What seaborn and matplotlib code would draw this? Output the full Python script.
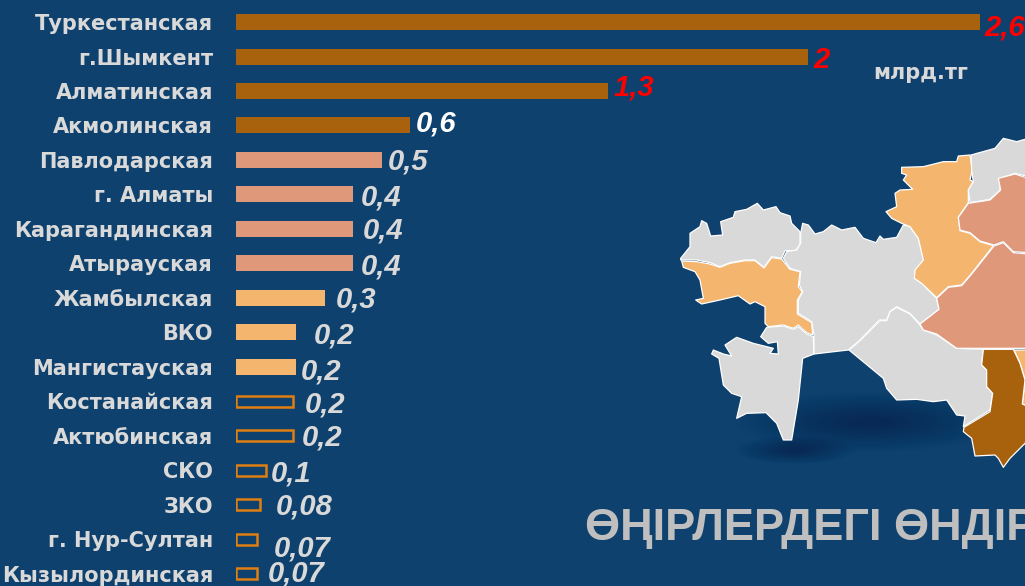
import numpy as np
import pandas as pd
import matplotlib
matplotlib.use("Agg")
import matplotlib.pyplot as plt
from matplotlib.patches import Polygon, Ellipse
import seaborn as sns

regions = ["Туркестанская", "г.Шымкент", "Алматинская", "Акмолинская", "Павлодарская",
           "г. Алматы", "Карагандинская", "Атырауская", "Жамбылская", "ВКО", "Мангистауская",
           "Костанайская", "Актюбинская", "СКО", "ЗКО", "г. Нур-Султан", "Кызылординская"]
values = [2.6, 2.0, 1.3, 0.61, 0.51, 0.41, 0.41, 0.41, 0.31, 0.21, 0.21,
          0.2, 0.2, 0.105, 0.085, 0.075, 0.075]
value_labels = ["2,6", "2", "1,3", "0,6", "0,5", "0,4", "0,4", "0,4", "0,3", "0,2", "0,2",
                "0,2", "0,2", "0,1", "0,08", "0,07", "0,07"]
tiers = ["t1"] * 4 + ["t2"] * 4 + ["t3"] * 3 + ["t4"] * 6

BG = "#0E416D"
palette = {"t1": "#A8620E", "t2": "#E0987A", "t3": "#F4B56E", "t4": BG}
OUTLINE = "#E07F10"
label_colors = ["#FF0000"] * 3 + ["#FFFFFF"] + ["#D9D9D9"] * 13
# label offset from the bar end / row centre, in pixels
label_dx = [5, 5, 6, 5, 6, 8, 10, 8, 11, 18, 5, 12, 9, 5, 15, 16, 10]
label_dy = [2, 0, -6, -5, -1, 0, -1, 0, -1, 0, 2, 0, -1, 0, -1, 6, -3]

# Map outlines, as traced on a 3x crop whose origin is (670, 130) in the picture
map_shapes = [
    ("#D9D9D9", [(32,385),(60,350),(60,310),(90,290),(95,272),(110,280),(122,318),(158,315),(152,275),(190,262),(195,245),(230,238),(262,220),(280,240),(318,230),(330,248),(360,258),(365,280),(390,305),(390,345),(375,362),(345,362),(335,385),(305,380),(282,412),(255,390),(225,390),(180,398),(150,410),(120,398),(80,390),(32,390)]),
    ("#F4B56E", [(35,393),(80,395),(120,402),(150,412),(180,400),(225,392),(255,392),(282,414),(305,383),(335,387),(360,418),(390,425),(385,470),(397,485),(382,510),(382,552),(425,578),(428,615),(410,608),(385,585),(370,595),(340,585),(295,590),(285,580),(285,530),(255,515),(240,522),(205,497),(150,510),(95,522),(77,510),(100,505),(90,450),(75,425),(40,412)]),
    ("#D9D9D9", [(290,592),(340,588),(370,598),(385,590),(410,612),(430,620),(432,672),(398,685),(385,810),(365,930),(340,930),(320,880),(288,848),(230,850),(200,865),(215,800),(185,790),(160,765),(147,685),(125,672),(130,660),(160,672),(185,678),(165,645),(200,622),(250,640),(310,655),(300,670),(325,672),(322,635),(295,640),(272,620)]),
    ("#D9D9D9", [(398,280),(415,285),(435,312),(460,305),(485,285),(515,300),(555,292),(580,325),(618,338),(630,318),(640,328),(680,322),(700,285),(720,290),(745,325),(762,390),(735,425),(735,445),(755,460),(800,505),(807,538),(750,582),(720,550),(680,530),(660,545),(650,570),(628,570),(570,630),(535,660),(432,672),(432,615),(425,575),(385,550),(385,510),(398,485),(388,465),(392,425),(360,415),(340,385),(350,365),(380,360),(392,340),(392,310)]),
    ("#D9D9D9", [(537,660),(570,632),(630,572),(650,572),(660,545),(680,532),(720,552),(750,585),(760,600),(800,615),(860,655),(940,658),(935,705),(950,720),(950,770),(968,790),(960,840),(880,890),(885,858),(860,855),(830,810),(790,815),(740,808),(680,810),(650,775),(640,745)]),
    ("#F4B56E", [(695,112),(760,110),(820,95),(860,95),(865,78),(900,75),(907,120),(900,150),(910,155),(895,180),(895,218),(865,262),(870,302),(900,310),(930,335),(970,347),(905,430),(875,465),(835,470),(800,503),(755,460),(733,445),(735,420),(760,390),(745,325),(720,290),(695,280),(665,265),(648,245),(680,230),(675,190),(690,180),(728,178),(700,150),(710,135),(695,130)]),
    ("#D9D9D9", [(903,75),(975,55),(1000,25),(1040,35),(1075,25),(1075,140),(1035,130),(990,145),(990,180),(960,208),(900,218),(895,180),(910,155),(905,120)]),
    ("#E0987A", [(895,220),(960,210),(992,180),(985,145),(1035,132),(1075,145),(1075,368),(1030,365),(1000,335),(972,345),(930,333),(900,308),(870,300),(865,262)]),
    ("#E0987A", [(972,348),(1000,338),(1030,368),(1075,372),(1075,655),(860,655),(800,612),(760,600),(750,582),(807,538),(800,505),(835,472),(875,467),(905,432)]),
    ("#F4B56E", [(1032,660),(1075,660),(1075,830),(1057,822),(1065,750),(1050,700)]),
    ("#A8620E", [(940,658),(1030,658),(1050,700),(1065,750),(1057,822),(1075,830),(1075,930),(1020,985),(1000,1012),(985,985),(975,975),(915,978),(905,925),(880,905),(882,892),(960,845),(968,790),(950,770),(950,720),(935,705)]),
]

W, H = 1025, 586
WIDE = ["DejaVu Sans"]
sns.set_theme(style="white")
plt.rcParams["font.family"] = ["Liberation Sans", "DejaVu Sans"]

fig = plt.figure(figsize=(W / 100, H / 100), dpi=100, facecolor=BG)

# Overlay in picture pixels for the map and its shadow
bg = fig.add_axes([0, 0, 1, 1], facecolor=BG)
bg.set_xlim(0, W)
bg.set_ylim(H, 0)
bg.axis("off")
for cx, cy, rx, ry in [(870, 422, 135, 30), (795, 450, 60, 14)]:
    for f in np.linspace(1, 0.15, 24):
        bg.add_patch(Ellipse((cx, cy), 2 * rx * f, 2 * ry * f, fc="#08294A", ec="none", alpha=0.026, zorder=1))
for color, pts in map_shapes:
    xy = [(670 + x / 3, 130 + y / 3) for x, y in pts]
    bg.add_patch(Polygon(xy, closed=True, fc=color, ec="#FFFFFF", lw=0.9, joinstyle="round", zorder=2))

# Bars
ax = fig.add_axes([236 / W, 0, 1 - 236 / W, 1], facecolor="none")
df = pd.DataFrame({"region": regions, "value": values, "tier": tiers})
sns.barplot(data=df, y="region", x="value", hue="tier", palette=palette, dodge=False,
            width=16 / 34.5, legend=False, ax=ax, saturation=1, linewidth=0)
for cont, tier in zip(ax.containers, ["t1", "t2", "t3", "t4"]):
    if tier == "t4":
        for p in cont:
            if p.get_width() > 0:
                c_y = p.get_y() + p.get_height() / 2
                p.set_height(11 / 34.5)
                p.set_y(c_y - 11 / 34.5 / 2)
            p.set_facecolor("none")
            p.set_edgecolor(OUTLINE)
            p.set_linewidth(1.8)
px_per_unit = 286.0
ax.set_xlim(0, (W - 236) / px_per_unit)
ax.set_ylim(16.35, -0.638)
ax.set_xlabel("")
ax.set_ylabel("")
ax.set_xticks([])
sns.despine(ax=ax, left=True, bottom=True)
ax.tick_params(axis="y", length=0, pad=16.5)
for t in ax.get_yticklabels():
    t.set_color("#D9D9D9")
    t.set_fontweight("bold")
    t.set_fontsize(15)
    t.set_family(WIDE)
for i, (v, s, c, dx, dy) in enumerate(zip(values, value_labels, label_colors, label_dx, label_dy)):
    ax.annotate(s, xy=(v, i), xytext=(dx * 0.72, -dy * 0.72), textcoords="offset points",
                ha="left", va="center_baseline", color=c, fontsize=21, fontweight="bold", fontstyle="italic",
                annotation_clip=False)

fig.text(873 / W, 1 - 73 / H, "млрд.тг", color="#D9D9D9", fontsize=15, fontweight="bold", ha="left", va="center", family=WIDE)
fig.text(585 / W, 1 - 540 / H, "ӨҢІРЛЕРДЕГІ ӨНДІРІС", color="#BFBFBF", fontsize=32.5, fontweight="bold",
         ha="left", va="baseline")

fig.savefig("out.png", dpi=100, facecolor=BG)
